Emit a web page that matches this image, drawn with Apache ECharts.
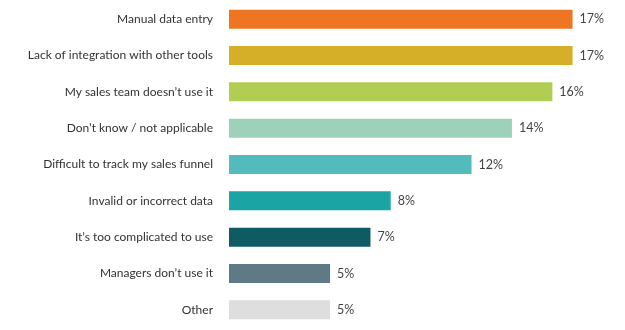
<!DOCTYPE html>
<html><head><meta charset="utf-8">
<script src="https://cdn.jsdelivr.net/npm/echarts@6/dist/echarts.min.js"></script>
<style>html,body{margin:0;padding:0;background:#fff}#c{width:625px;height:330px}</style>
</head><body><div id="c"></div>
<script>
const categories = ["Manual data entry","Lack of integration with other tools","My sales team doesn\u2019t use it","Don\u2019t know / not applicable","Difficult to track my sales funnel","Invalid or incorrect data","It\u2019s too complicated to use","Managers don\u2019t use it","Other"];
const values = [17,17,16,14,12,8,7,5,5];
const colors = ["#EE7623","#D4AF27","#B2CE52","#9DD1BA","#54BBBD","#1BA4A4","#0E5B64","#5F7A84","#DEDEDE"];
const chart = echarts.init(document.getElementById('c'));
chart.setOption({
  animation:false,
  grid:{left:229,top:1,width:384,height:327,containLabel:false},
  xAxis:{type:'value',min:0,max:19,show:false},
  yAxis:{type:'category',data:categories,inverse:true,
    axisLine:{show:false},axisTick:{show:false},
    axisLabel:{margin:16,color:'#333',fontFamily:'Lato',fontSize:12}},
  series:[{type:'bar',barWidth:19,
    data:values.map((v,i)=>({value:v,itemStyle:{color:colors[i]}})),
    label:{show:true,position:'right',distance:7,formatter:'{c}%',color:'#444',fontFamily:'Lato',fontSize:12.5}}]
});
</script></body></html>
